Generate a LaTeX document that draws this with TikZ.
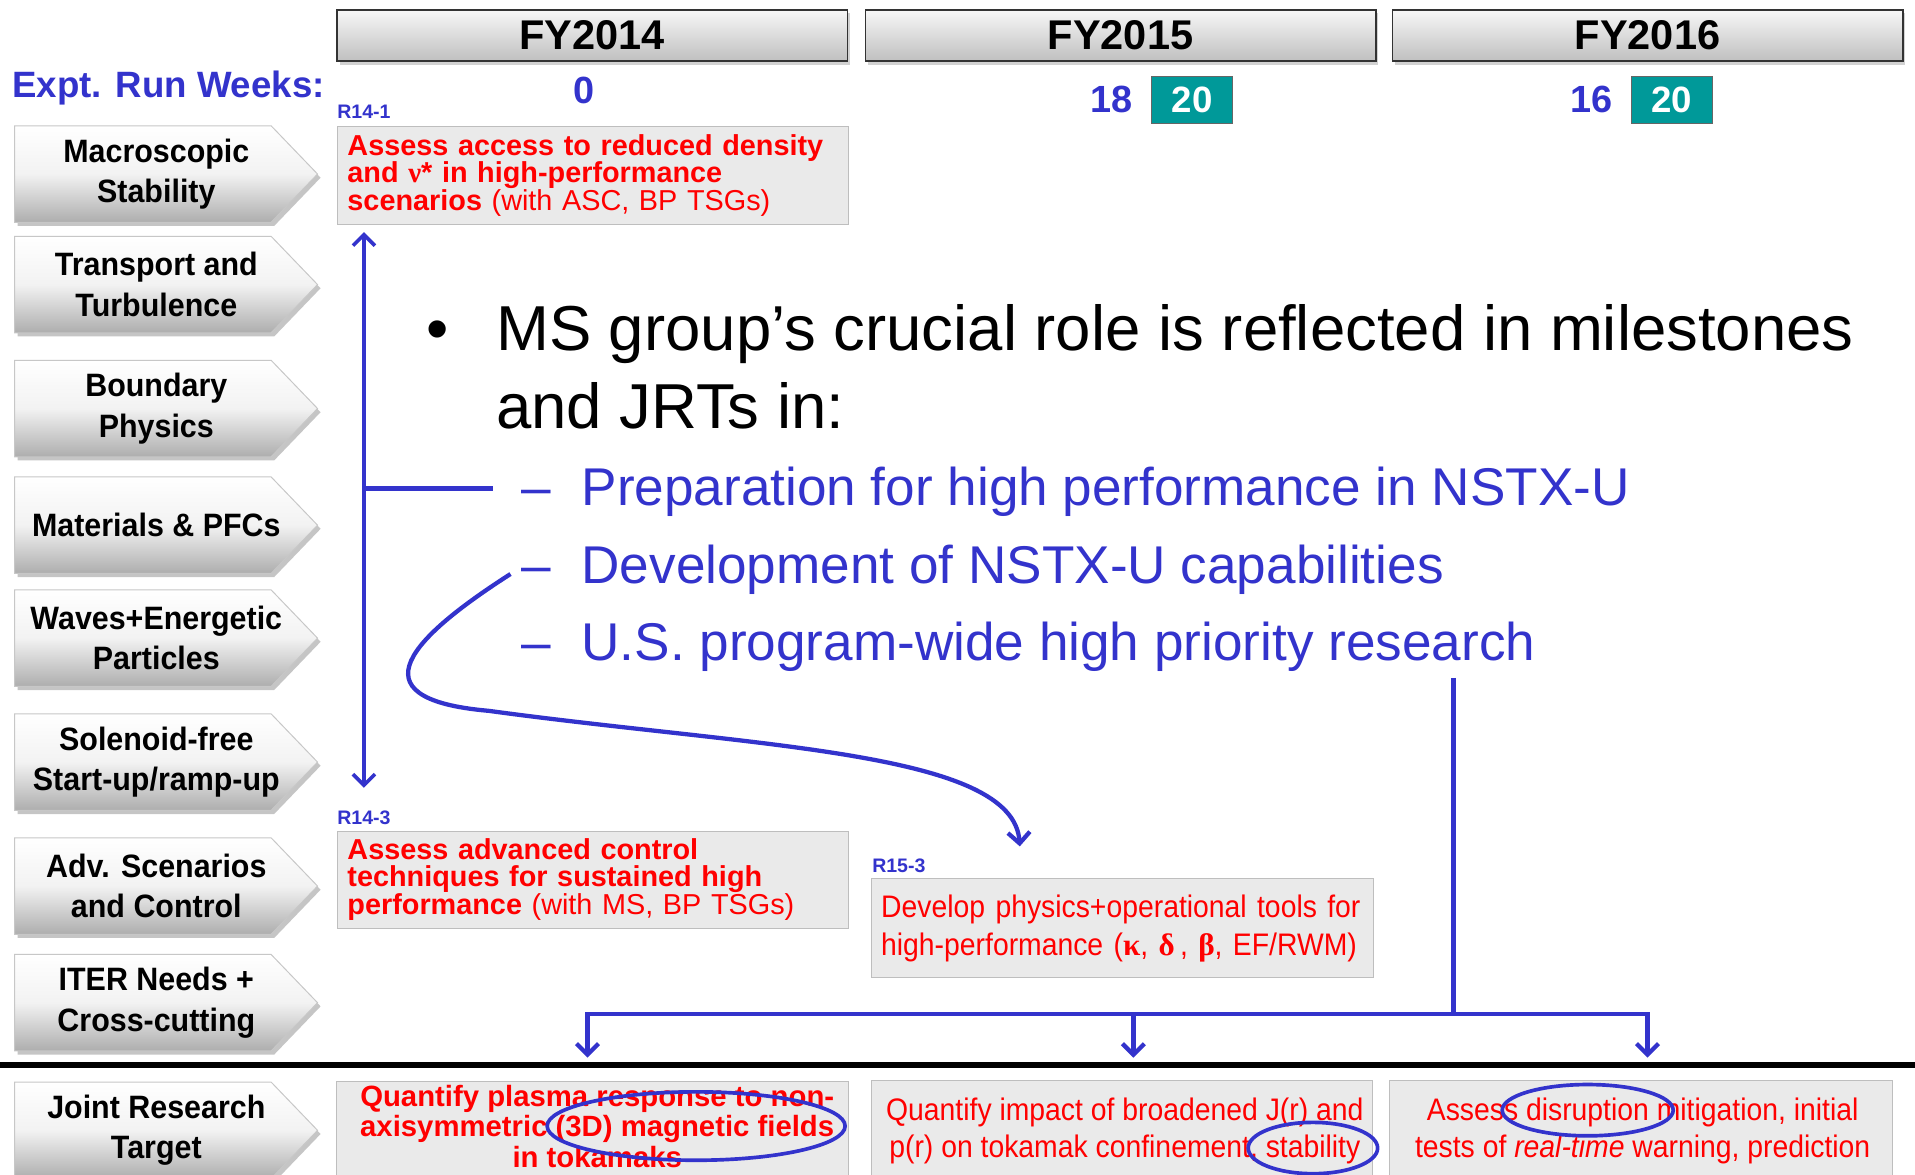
\documentclass[tikz,border=0pt]{standalone}
\usepackage{fontspec}
\setmainfont{Liberation Sans}
\newfontfamily\narf[FakeStretch=0.91]{Liberation Sans}
\newfontfamily\btnf[FakeStretch=0.94]{Liberation Sans}
\newfontfamily\serf{Liberation Serif}
\usetikzlibrary{arrows.meta,shadows,shapes.geometric}
\definecolor{ublue}{RGB}{51,51,204}
\definecolor{uteal}{RGB}{0,153,153}
\definecolor{ured}{RGB}{255,0,0}
\definecolor{boxfill}{RGB}{234,234,234}
\definecolor{boxline}{RGB}{190,190,190}
\newcommand\fs[2]{\fontsize{#1}{#2}\selectfont}
\newcommand\mybtn[3]{%
  \path[btnshape] (12,{#2-39.5}) -- (222,{#2-39.5}) -- (260,#2) -- (222,{#2+39.5}) -- (12,{#2+39.5}) -- cycle;
  \node[btntext] (#1) at (128,#2) {#3};}
\tikzset{
  fyhead/.style={draw=black!80, line width=1.2pt, top color=black!3, bottom color=black!25,
    minimum width=418pt, minimum height=42pt, inner sep=0pt, font=\bfseries\fs{34}{40},
    drop shadow={shadow xshift=2pt, shadow yshift=-3pt, opacity=0.35}},
  btnshape/.style={draw=black!22, line width=0.8pt, top color=white, bottom color=black!32, middle color=black!5,
    drop shadow={shadow xshift=2.5pt, shadow yshift=-3pt, opacity=0.45}},
  btntext/.style={font=\btnf\bfseries\fs{26.5}{33}, align=center, inner sep=0pt},
  tealbox/.style={fill=uteal, draw=black!60, line width=0.8pt, minimum width=66pt, minimum height=38pt,
    inner sep=0pt, text=white, font=\bfseries\fs{30}{36}},
  wk/.style={font=\bfseries\fs{31}{36}, text=ublue, inner sep=0pt, anchor=base},
  lbl/.style={font=\bfseries\fs{16}{18}, text=ublue, inner sep=0pt, anchor=base west},
  mbox/.style={draw=boxline, line width=1pt, fill=boxfill, inner xsep=8pt, inner ysep=0pt,
    text=ured, anchor=north west},
  boldbox/.style={mbox, font=\bfseries\fs{23.6}{22}, align=left, minimum height=80pt},
  narbox/.style={mbox, font=\narf\fs{25.5}{31}},
  jbox/.style={mbox, minimum height=84pt},
  jtxt/.style={text=ured, inner sep=0pt, align=center},
  big/.style={font=\fs{52}{64}, inner sep=0pt, anchor=base west},
  sub/.style={font=\fs{43.5}{64}, text=ublue, inner sep=0pt, anchor=base west},
  conn/.style={draw=ublue, line width=3.5pt},
  tip/.style={-{Straight Barb[length=9pt,width=18pt]}},
  ring/.style={ellipse, draw=ublue, line width=3pt, inner sep=0pt},
}
\begin{document}
\begin{tikzpicture}[x=1pt,y=-1pt]
\useasboundingbox (0,0) rectangle (1568,962);
\fill[white] (0,0) rectangle (1568,962);

% year headers
\node[fyhead] (fy14) at (485,29) {FY2014};
\node[fyhead] (fy15) at (917.5,29) {FY2015};
\node[fyhead] (fy16) at (1349,29) {FY2016};

% run weeks
\node[font=\bfseries\fs{30}{36}, text=ublue, inner sep=0pt, anchor=base west] (expt) at (10,79.5) {Expt. Run Weeks:};
\node[wk] (w14) at (478,85) {0};
\node[wk] (w15) at (910,92.5) {18};
\node[tealbox] (t15) at (976,82) {20};
\node[wk] (w16) at (1303,92.5) {16};
\node[tealbox] (t16) at (1369,82) {20};

% left buttons
\mybtn{b1}{142.5}{Macroscopic\\Stability}
\mybtn{b2}{233}{Transport and\\Turbulence}
\mybtn{b3}{334.5}{Boundary\\Physics}
\mybtn{b4}{430}{Materials \& PFCs}
\mybtn{b5}{522.5}{Waves+Energetic\\Particles}
\mybtn{b6}{624}{Solenoid-free\\Start-up/ramp-up}
\mybtn{b7}{725.5}{Adv. Scenarios\\and Control}
\mybtn{b8}{821}{ITER Needs +\\Cross-cutting}
\mybtn{b9}{925.5}{Joint Research\\Target}

% milestone boxes
\node[lbl] (l141) at (276,97) {R14-1};
\node[boldbox, text width=402pt] (r141) at (276,103)
  {Assess access to reduced density\\and {\serf ν}* in high-performance\\scenarios {\mdseries (with ASC, BP TSGs)}};
\node[lbl] (l143) at (276,675) {R14-3};
\node[boldbox, text width=402pt] (r143) at (276,680)
  {Assess advanced control\\techniques for sustained high\\performance {\mdseries (with MS, BP TSGs)}};
\node[lbl] (l153) at (714,714) {R15-3};
\node[narbox, text width=395pt, align=left, minimum height=81pt] (r153) at (713,719)
  {Develop physics+operational tools for\\high-performance ({\serf\bfseries κ}, {\serf\bfseries δ}\,, {\serf\bfseries β}, EF/RWM)};

% separator
\coordinate (sepL) at (0,872);
\coordinate (sepR) at (1568,872);
\draw[line width=5pt] (sepL) -- (sepR);

% joint research targets
\node[jbox, minimum width=419pt] (j1) at (275,885) {};
\node[jbox, minimum width=410pt] (j2) at (713,884) {};
\node[jbox, minimum width=412pt] (j3) at (1137,884) {};
\node[jtxt, font=\bfseries\fs{24}{25}] (jt1) at (489,922)
  {Quantify plasma response to non-\\axisymmetric (3D) magnetic fields\\in tokamaks};
\node[jtxt, font=\narf\fs{25.5}{31}] (jt2) at (921,926)
  {Quantify impact of broadened J(r) and\\p(r) on tokamak confinement, stability};
\node[jtxt, font=\narf\fs{25.5}{31}] (jt3) at (1345,926)
  {Assess disruption mitigation, initial\\tests of \textit{real-time} warning, prediction};

% ellipses
\node[ring, minimum width=244pt, minimum height=56pt] (e1) at (570,922) {};
\node[ring, minimum width=106pt, minimum height=42pt] (e2) at (1075,940) {};
\node[ring, minimum width=140pt, minimum height=42pt] (e3) at (1300,909) {};

% bullet text
\node[big] (dot) at (349,287) {•};
\node[big] (bl1) at (406,287) {MS group’s crucial role is reflected in milestones};
\node[big] (bl2) at (406,351) {and JRTs in:};
\node[sub] (m1) at (427,414) {–};
\node[sub] (s1) at (476,414) {Preparation for high performance in NSTX-U};
\node[sub] (m2) at (427,478) {–};
\node[sub] (s2) at (476,478) {Development of NSTX-U capabilities};
\node[sub] (m3) at (427,541) {–};
\node[sub] (s3) at (476,541) {U.S. program-wide high priority research};

% connectors
\coordinate (vt) at (298,190);
\coordinate (vb) at (298,645);
\coordinate (bj) at (298,400);
\coordinate (bj2) at (404,400);
\draw[conn, line width=3pt, {Straight Barb[length=9pt,width=18pt]}-{Straight Barb[length=9pt,width=18pt]}] (vt) -- (vb);
\draw[conn, line width=4pt] (bj) -- (bj2);

\coordinate (cs) at (418,470);
\coordinate (cm) at (400,582);
\coordinate (ce) at (835,693);
\draw[conn, tip] (cs) .. controls (340,520) and (285,572) .. (cm)
  .. controls (620,612) and (830,615) .. (ce);

\coordinate (rt) at (1190,555);
\coordinate (rj) at (1190,830);
\coordinate (ha) at (481,830);
\coordinate (hb) at (928,830);
\coordinate (hc) at (1349,830);
\coordinate (a1) at (481,866);
\coordinate (a2) at (928,866);
\coordinate (a3) at (1349,866);
\draw[conn] (rt) -- (rj);
\draw[conn, line cap=rect] (ha) -- (hc);
\draw[conn, tip] (ha) -- (a1);
\draw[conn, tip] (hb) -- (a2);
\draw[conn, tip] (hc) -- (a3);
\end{tikzpicture}
\end{document}
